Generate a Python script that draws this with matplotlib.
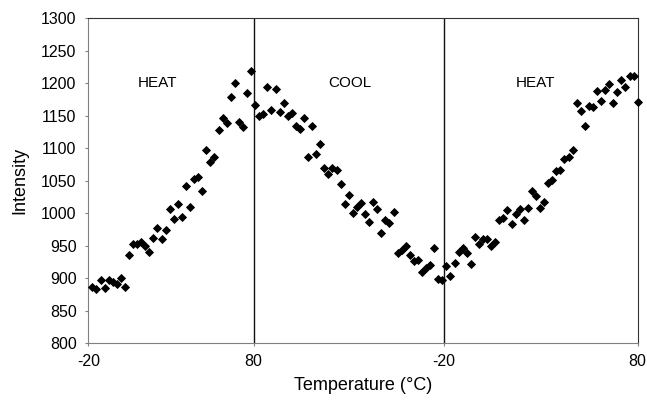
import matplotlib
matplotlib.use("Agg")
import matplotlib.pyplot as plt
import numpy as np

plt.rcParams['font.family'] = ['Liberation Sans', 'DejaVu Sans']

# intensity readings, one per scan step, in order of measurement
heat1 = [886, 883, 898, 885, 898, 894, 891, 900, 887, 936,
         953, 953, 956, 949, 940, 962, 978, 961, 974, 1007,
         991, 1014, 995, 1042, 1010, 1053, 1056, 1035, 1097, 1079,
         1087, 1128, 1147, 1139, 1179, 1201, 1141, 1133, 1185, 1219]
cool = [1166, 1149, 1153, 1194, 1159, 1191, 1156, 1170, 1149, 1154,
        1134, 1130, 1147, 1087, 1134, 1091, 1107, 1070, 1060, 1070,
        1066, 1045, 1015, 1028, 1001, 1010, 1016, 999, 986, 1017,
        1006, 970, 989, 985, 1002, 939, 944, 949, 936, 926,
        928, 909, 915, 920, 946, 899, 897]
heat2 = [919, 904, 924, 941, 946, 939, 922, 963, 953, 961,
         961, 949, 956, 989, 993, 1005, 984, 999, 1007, 989,
         1008, 1034, 1027, 1008, 1018, 1047, 1052, 1065, 1066, 1083,
         1086, 1098, 1169, 1157, 1134, 1165, 1164, 1188, 1173, 1190,
         1199, 1170, 1186, 1205, 1194, 1212, 1211, 1172]

tick_labels = ['-20', '80', '-20', '80']
phase_labels = ['HEAT', 'COOL', 'HEAT']

intensity = heat1 + cool + heat2
step = np.arange(len(intensity))

n1 = len(heat1)
n2 = n1 + len(cool)
bounds = [-1, n1 - 0.4, n2 - 0.7, len(intensity) - 1]
label_x = [16, 63.3, 108.9]

fig = plt.figure(figsize=(6.47, 4.0), dpi=100)
ax = fig.add_axes([0.1365, 0.142, 0.8491, 0.812])

ax.plot(step, intensity, linestyle='none', marker='D', markersize=3.6,
        markeredgewidth=0.6, color='black', clip_on=False, zorder=3)

for b in bounds[1:3]:
    ax.axvline(b, color='#111111', linewidth=1.0, zorder=2)

ax.set_xlim(bounds[0], bounds[-1])
ax.set_ylim(800, 1300)
ax.set_yticks(np.arange(800, 1301, 50))
ax.set_xticks(bounds)
ax.set_xticklabels(tick_labels)

for xm, lab in zip(label_x, phase_labels):
    ax.text(xm, 1200, lab, ha='center', va='center', fontsize=11)

for s in ['left', 'bottom']:
    ax.spines[s].set_color('#808080')
for s in ['top', 'right']:
    ax.spines[s].set_color('#333333')
ax.tick_params(axis='both', direction='out', length=2.5, color='#808080',
               labelsize=11.5)
ax.tick_params(axis='y', pad=6)
ax.tick_params(axis='x', pad=5)

ax.set_xlabel('Temperature (°C)', fontsize=13, labelpad=6)
ax.set_ylabel('Intensity', fontsize=13, labelpad=9)

fig.savefig('out.png', dpi=100)
